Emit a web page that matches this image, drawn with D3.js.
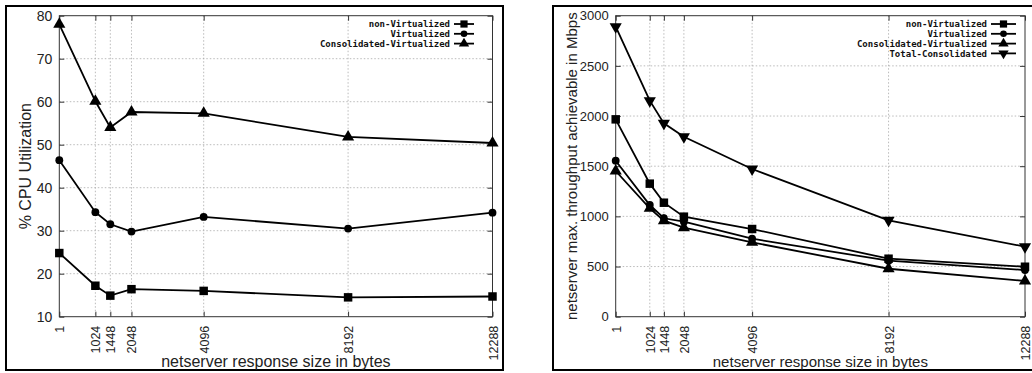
<!DOCTYPE html>
<html>
<head>
<meta charset="utf-8">
<script src="https://cdn.jsdelivr.net/npm/d3@7"></script>
<style>
  body { margin: 0; background: #fff; }
  svg { display: block; }
  .tick text { font-family: "Liberation Sans", Arial, sans-serif; fill: #222; }
  .axisTitle { font-family: "Liberation Sans", Arial, sans-serif; fill: #222; }
  .legendText { font-family: "DejaVu Sans Mono", monospace; font-weight: bold; font-size: 9px; fill: #111; }
</style>
</head>
<body>
<div id="chart"></div>
<script>
// data
var sizes = [1, 1024, 1448, 2048, 4096, 8192, 12288];

var cpuNonVirtualized = [24.8, 17.2, 14.9, 16.4, 16.0, 14.5, 14.7];
var cpuVirtualized = [46.4, 34.3, 31.5, 29.8, 33.2, 30.5, 34.2];
var cpuConsolidated = [78.0, 60.1, 54.0, 57.6, 57.3, 51.8, 50.4];

var tputNonVirtualized = [1967, 1326, 1136, 997, 874, 578, 498];
var tputVirtualized = [1555, 1113, 981, 947, 777, 558, 465];
var tputConsolidated = [1452, 1080, 957, 887, 741, 478, 356];
var tputTotal = [2890, 2153, 1927, 1794, 1472, 961, 698];

var cpuTicks = [10, 20, 30, 40, 50, 60, 70, 80];
var tputTicks = [0, 500, 1000, 1500, 2000, 2500, 3000];

var svgWidth = 1032;
var svgHeight = 373;

var svg = d3.select("#chart")
  .append("svg")
  .attr("width", svgWidth)
  .attr("height", svgHeight);

// symbol shapes per series
var shapes = {
  square: d3.symbol().type(d3.symbolSquare).size(72),
  circle: d3.symbol().type(d3.symbolCircle).size(48),
  triangle: d3.symbol().type(d3.symbolTriangle).size(64)
};

function drawPanel(p) {
  // outer frame
  svg.append("rect")
    .attr("x", p.frame[0]).attr("y", p.frame[1])
    .attr("width", p.frame[2]).attr("height", p.frame[3])
    .attr("fill", "none")
    .attr("stroke", "#000")
    .attr("stroke-width", 2);

  var g = svg.append("g")
    .attr("transform", `translate(${p.left}, ${p.top})`);

  var width = p.right - p.left;
  var height = p.bottom - p.top;

  var xScale = d3.scaleLinear()
    .domain([1, 12288])
    .range([0, width]);

  var yScale = d3.scaleLinear()
    .domain([p.yTicks[0], p.yTicks[p.yTicks.length - 1]])
    .range([height, 0]);

  // grid lines
  g.append("g")
    .selectAll("line")
    .data(p.yTicks.slice(1, -1))
    .enter()
    .append("line")
    .attr("x1", 0).attr("x2", width)
    .attr("y1", d => yScale(d)).attr("y2", d => yScale(d))
    .attr("stroke", "#aaa")
    .attr("stroke-width", 0.8)
    .attr("stroke-dasharray", "1.5,2");

  g.append("g")
    .selectAll("line")
    .data(sizes.slice(1, -1))
    .enter()
    .append("line")
    .attr("x1", d => xScale(d)).attr("x2", d => xScale(d))
    .attr("y1", 0).attr("y2", height)
    .attr("stroke", "#aaa")
    .attr("stroke-width", 0.8)
    .attr("stroke-dasharray", "1.5,2");

  // axes, ticks point inward
  var bottomAxis = d3.axisBottom(xScale).tickValues(sizes).tickFormat(d3.format("d")).tickSize(-5);
  var leftAxis = d3.axisLeft(yScale).tickValues(p.yTicks).tickFormat(d3.format("d")).tickSize(-5).tickPadding(7);

  var xAxisG = g.append("g")
    .attr("transform", `translate(0, ${height})`)
    .call(bottomAxis);
  xAxisG.selectAll("text")
    .attr("transform", "rotate(-90)")
    .attr("text-anchor", "end")
    .attr("x", -9)
    .attr("y", 0)
    .attr("dy", "0.36em")
    .style("font-size", "12.5px");

  var yAxisG = g.append("g").call(leftAxis);
  yAxisG.selectAll("text").style("font-size", p.tickFont + "px");

  g.append("g").call(d3.axisTop(xScale).tickValues(sizes).tickSize(-5).tickFormat(""));
  g.append("g").attr("transform", `translate(${width}, 0)`)
    .call(d3.axisRight(yScale).tickValues(p.yTicks).tickSize(-5).tickFormat(""));

  g.selectAll(".domain").remove();
  g.selectAll(".tick line").attr("stroke", "#333");

  g.append("rect")
    .attr("width", width).attr("height", height)
    .attr("fill", "none")
    .attr("stroke", "#333")
    .attr("stroke-width", 1);

  // series lines and markers
  var line = d3.line()
    .x((d, i) => xScale(sizes[i]))
    .y(d => yScale(d));

  p.series.forEach(function(s) {
    g.append("path")
      .datum(s.values)
      .attr("d", line)
      .attr("fill", "none")
      .attr("stroke", "#000")
      .attr("stroke-width", 1.8);

    g.selectAll(null)
      .data(s.values)
      .enter()
      .append("path")
      .attr("d", shapes[s.shape])
      .attr("transform", (d, i) => `translate(${xScale(sizes[i])}, ${yScale(d)}) rotate(${s.flip ? 180 : 0})`)
      .attr("fill", "#000");
  });

  // legend
  p.series.forEach(function(s, i) {
    var ly = p.legend.y + i * 9.8;
    svg.append("text")
      .attr("class", "legendText")
      .attr("x", p.legend.textEnd)
      .attr("y", ly)
      .attr("dy", "0.35em")
      .attr("text-anchor", "end")
      .text(s.name);
    svg.append("line")
      .attr("x1", p.legend.x0).attr("x2", p.legend.x1)
      .attr("y1", ly).attr("y2", ly)
      .attr("stroke", "#000")
      .attr("stroke-width", 1.8);
    svg.append("path")
      .attr("d", shapes[s.shape])
      .attr("transform", `translate(${(p.legend.x0 + p.legend.x1) / 2}, ${ly}) rotate(${s.flip ? 180 : 0}) scale(0.85)`)
      .attr("fill", "#000");
  });

  // axis titles
  svg.append("text")
    .attr("class", "axisTitle")
    .attr("x", (p.left + p.right) / 2)
    .attr("y", p.xTitleY)
    .attr("text-anchor", "middle")
    .style("font-size", p.titleFont + "px")
    .text("netserver response size in bytes");

  svg.append("text")
    .attr("class", "axisTitle")
    .attr("transform", `translate(${p.yTitleX}, ${(p.top + p.bottom) / 2}) rotate(-90)`)
    .attr("text-anchor", "middle")
    .style("font-size", p.titleFont + "px")
    .text(p.yTitle);
}

drawPanel({
  frame: [6, 6, 497, 364],
  left: 59.3, right: 492.5, top: 15.7, bottom: 316.7,
  yTicks: cpuTicks,
  tickFont: 14,
  titleFont: 16,
  xTitleY: 367,
  yTitleX: 31,
  yTitle: "% CPU Utilization",
  legend: { y: 24, textEnd: 450, x0: 454, x1: 474 },
  series: [
    { name: "non-Virtualized", values: cpuNonVirtualized, shape: "square" },
    { name: "Virtualized", values: cpuVirtualized, shape: "circle" },
    { name: "Consolidated-Virtualized", values: cpuConsolidated, shape: "triangle" }
  ]
});

drawPanel({
  frame: [553, 6, 490, 364],
  left: 615.7, right: 1025, top: 15.7, bottom: 316.7,
  yTicks: tputTicks,
  tickFont: 13,
  titleFont: 15,
  xTitleY: 367,
  yTitleX: 577,
  yTitle: "netserver max. throughput achievable in Mbps",
  legend: { y: 24, textEnd: 987, x0: 991, x1: 1016 },
  series: [
    { name: "non-Virtualized", values: tputNonVirtualized, shape: "square" },
    { name: "Virtualized", values: tputVirtualized, shape: "circle" },
    { name: "Consolidated-Virtualized", values: tputConsolidated, shape: "triangle" },
    { name: "Total-Consolidated", values: tputTotal, shape: "triangle", flip: true }
  ]
});
</script>
</body>
</html>
